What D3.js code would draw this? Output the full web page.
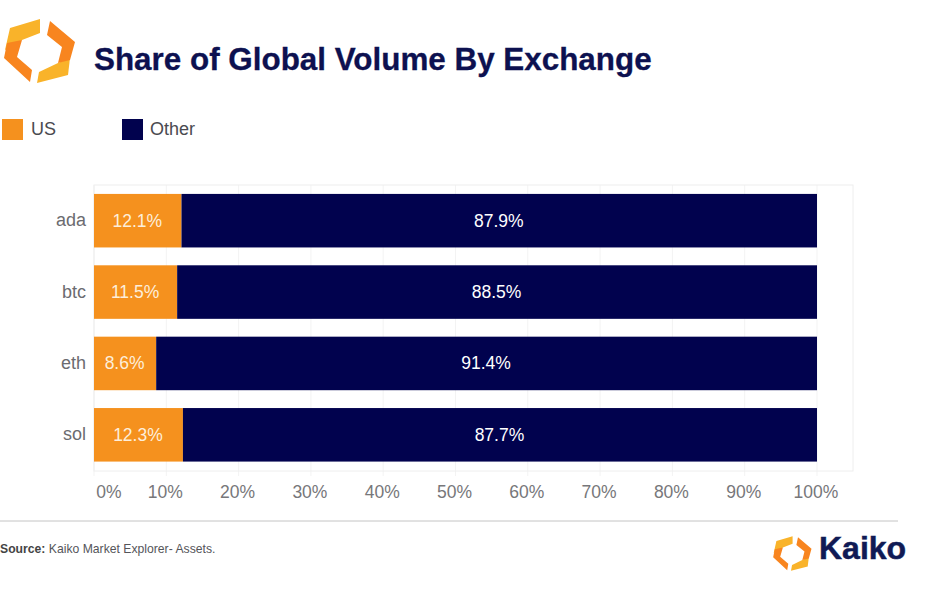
<!DOCTYPE html>
<html><head><meta charset="utf-8">
<script src="https://cdn.jsdelivr.net/npm/d3@7"></script>
<style>html,body{margin:0;padding:0;background:#fff}svg{display:block}text{font-family:"Liberation Sans",Arial,sans-serif}</style>
</head><body><svg id="c" width="925" height="594"></svg>
<script>
const categories = ["ada","btc","eth","sol"];
const usValues = [12.1,11.5,8.6,12.3];
const otherValues = [87.9,88.5,91.4,87.7];
const tickValues = [0,10,20,30,40,50,60,70,80,90,100];
const seriesNames = ["US","Other"];
const colors = {US:"#f5911e",Other:"#01024e"};

const svg = d3.select("#c");
const x = d3.scaleLinear().domain([0,100]).range([94,817]);
const y = d3.scaleBand().domain(categories).range([185,470.5]).paddingInner(0.25).paddingOuter(0.125);
const plotTop=185, plotBottom=471, plotRight=853;

// grid
const g = svg.append("g");
g.selectAll("line.grid").data(tickValues).join("line")
 .attr("x1",d=>x(d)).attr("x2",d=>x(d)).attr("y1",plotTop).attr("y2",plotBottom+5)
 .attr("stroke","#f3f3f3");
g.append("rect").attr("x",94).attr("y",plotTop).attr("width",plotRight-94).attr("height",plotBottom-plotTop)
 .attr("fill","none").attr("stroke","#eeeeee");

// bars
categories.forEach((c,i)=>{
  const yy=y(c), h=y.bandwidth();
  svg.append("rect").attr("x",x(0)).attr("y",yy).attr("width",x(usValues[i])-x(0)).attr("height",h).attr("fill",colors.US);
  svg.append("rect").attr("x",x(usValues[i])).attr("y",yy).attr("width",x(100)-x(usValues[i])).attr("height",h).attr("fill",colors.Other);
  svg.append("text").attr("x",x(usValues[i]/2)-0.5).attr("y",yy+h/2+6).attr("text-anchor","middle")
    .attr("font-size",17.5).attr("fill","#fdeeda").text(usValues[i].toFixed(1)+"%");
  svg.append("text").attr("x",x(usValues[i]+otherValues[i]/2)-0.5).attr("y",yy+h/2+6).attr("text-anchor","middle")
    .attr("font-size",17.5).attr("fill","#fff").text(otherValues[i].toFixed(1)+"%");
  svg.append("text").attr("x",86).attr("y",yy+h/2+5.5).attr("text-anchor","end")
    .attr("font-size",18).attr("fill","#6b6b70").text(c);
});

// x axis labels
svg.append("g").selectAll("text").data(tickValues).join("text")
 .attr("x",d=>d===0?109:x(d)-1).attr("y",498).attr("text-anchor","middle")
 .attr("font-size",17.5).attr("fill","#77777a").text(d=>d+"%");

// title
svg.append("text").attr("x",94).attr("y",70).attr("font-size",31.4).attr("font-weight","bold").attr("fill","#0d1150")
 .attr("stroke","#0d1150").attr("stroke-width",0.3).text("Share of Global Volume By Exchange");

// logo helper
function logo(tx,ty,s){
  const l=svg.append("g").attr("transform",`translate(${tx},${ty}) scale(${s})`);
  l.append("path").attr("d","M40 19 L10 28 L5 50 L22 40 L40 33Z").attr("fill","#f9b32a");
  l.append("path").attr("d","M4 58 L30 82 L32 70 L17 57 L22 40 L7 43Z").attr("fill","#f8851f");
  l.append("path").attr("d","M70 58 L68 75 L37 83 L39 72 L58 63Z").attr("fill","#f9b32a");
  l.append("path").attr("d","M50 21 L75 42 L70 60 L58 63 L62 47 L47 35Z").attr("fill","#f8851f");
}
logo(0,0,1);
logo(771,526,0.54);
svg.append("text").attr("x",819).attr("y",559).attr("font-size",32).attr("font-weight","bold").attr("fill","#101a55")
 .attr("stroke","#101a55").attr("stroke-width",0.5).text("Kaiko");

// legend
svg.append("rect").attr("x",2).attr("y",119).attr("width",21).attr("height",21).attr("fill",colors.US);
svg.append("text").attr("x",31).attr("y",135).attr("font-size",18).attr("fill","#4a4a50").text(seriesNames[0]);
svg.append("rect").attr("x",122).attr("y",119).attr("width",21).attr("height",21).attr("fill",colors.Other);
svg.append("text").attr("x",150).attr("y",135).attr("font-size",18).attr("fill","#4a4a50").text(seriesNames[1]);

// footer
svg.append("line").attr("x1",0).attr("x2",898).attr("y1",521).attr("y2",521).attr("stroke","#c4c4c4").attr("stroke-width",1);
const src=svg.append("text").attr("x",0).attr("y",553).attr("font-size",12.2).attr("fill","#55555a");
src.append("tspan").attr("font-weight","bold").attr("fill","#444").text("Source:");
src.append("tspan").text(" Kaiko Market Explorer- Assets.");
</script></body></html>
